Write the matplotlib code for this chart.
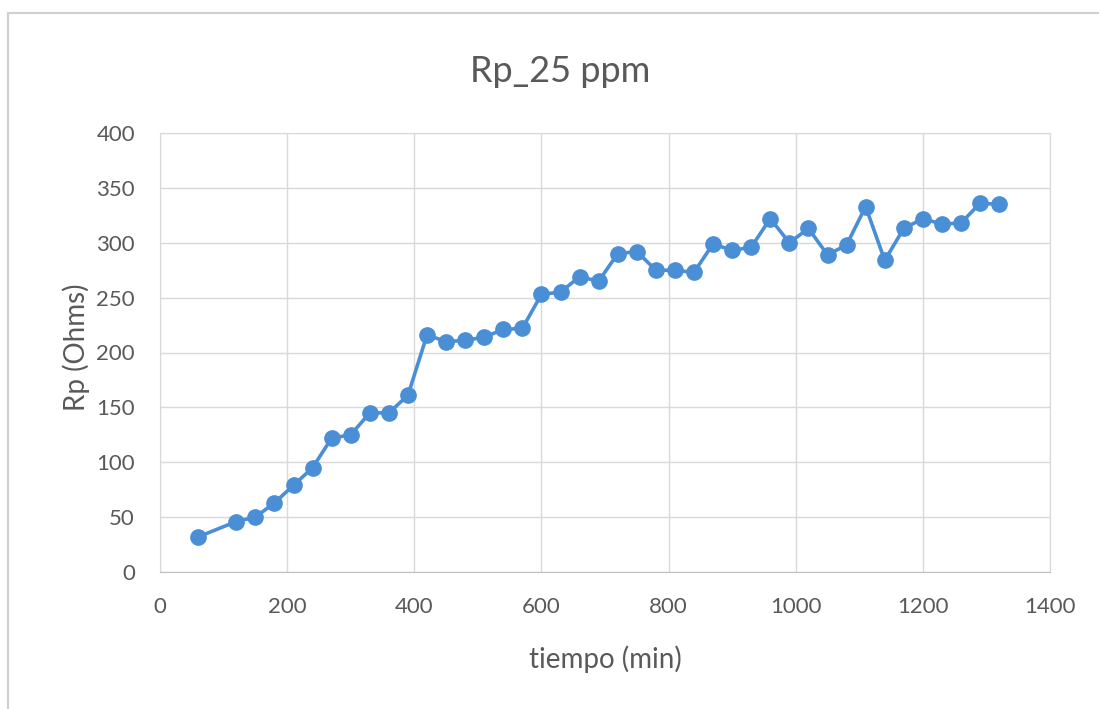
import matplotlib
matplotlib.use("Agg")
import matplotlib.pyplot as plt
from matplotlib.lines import Line2D

tiempo = [60, 120, 150, 180, 210, 240, 270, 300, 330, 360, 390, 420, 450, 480,
          510, 540, 570, 600, 630, 660, 690, 720, 750, 780, 810, 840, 870, 900,
          930, 960, 990, 1020, 1050, 1080, 1110, 1140, 1170, 1200, 1230, 1260,
          1290, 1320]
rp = [32, 46, 50, 63, 79, 95, 122, 125, 145, 145, 161, 216, 210, 211,
      214, 221, 222, 253, 255, 269, 265, 290, 292, 275, 275, 273, 299, 293,
      296, 322, 300, 313, 289, 298, 333, 284, 313, 322, 317, 318,
      336, 335]
x_ticks = [0, 200, 400, 600, 800, 1000, 1200, 1400]
y_ticks = [0, 50, 100, 150, 200, 250, 300, 350, 400]

plt.rcParams['font.family'] = ['Lato', 'DejaVu Sans']
text_color = '#595959'
grid_color = '#d9d9d9'
blue = '#4a8fd6'

W, H = 1099, 709
fig = plt.figure(figsize=(W / 100, H / 100), dpi=100)
fig.patch.set_facecolor('white')

# chart frame: top and left edges
fig.lines.append(Line2D([8 / W, 1.0], [1 - 12.5 / H, 1 - 12.5 / H],
                        transform=fig.transFigure, color='#cfcfcf', linewidth=1.5))
fig.lines.append(Line2D([8 / W, 8 / W], [0.0, 1 - 12.5 / H],
                        transform=fig.transFigure, color='#cfcfcf', linewidth=1.5))

left, right, top, bottom = 160, 1050, 133, 572
ax = fig.add_axes([left / W, 1 - bottom / H, (right - left) / W, (bottom - top) / H])

ax.plot(tiempo, rp, color=blue, linewidth=2.6, marker='o', markersize=11,
        markerfacecolor=blue, markeredgecolor=blue, zorder=3)

ax.set_xlim(0, 1400)
ax.set_ylim(0, 400)
ax.set_xticks(x_ticks)
ax.set_yticks(y_ticks)
ax.grid(True, color=grid_color, linewidth=1.0)
ax.set_axisbelow(True)
for side in ['top', 'right', 'left']:
    ax.spines[side].set_color(grid_color)
ax.spines['bottom'].set_color('#bfbfbf')
ax.tick_params(length=0, labelsize=16, labelcolor=text_color, pad=18)

fig.text(605 / W, 1 - 659 / H, 'tiempo (min)', ha='center', va='center',
         fontsize=20, color=text_color)
fig.text(76 / W, 1 - 347 / H, 'Rp (Ohms)', ha='center', va='center',
         rotation=90, fontsize=20, color=text_color)
fig.text(560 / W, 1 - 72 / H, 'Rp_25 ppm', ha='center', va='center',
         fontsize=26, color=text_color)

fig.savefig('out.png', dpi=100, facecolor='white')
